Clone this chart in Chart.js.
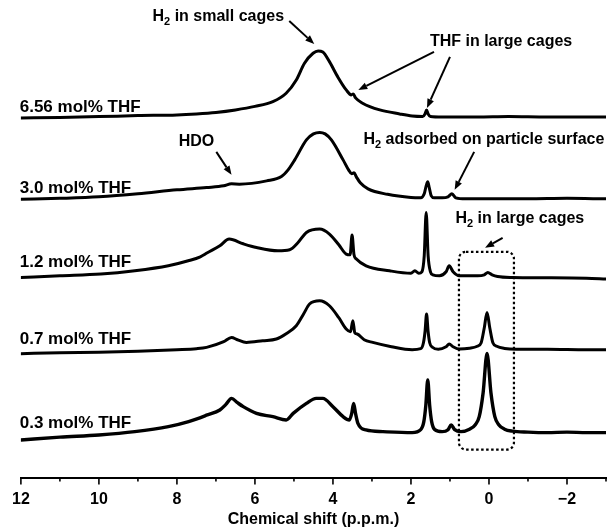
<!DOCTYPE html>
<html>
<head>
<meta charset="utf-8">
<script src="https://cdn.jsdelivr.net/npm/chart.js@4"></script>
<style>
  html, body { margin: 0; padding: 0; background: #fff; }
  #wrap { width: 616px; height: 529px; position: relative; }
</style>
</head>
<body>
<div id="wrap"><canvas id="nmrChart"></canvas></div>
<script>
// 1H NMR spectra, chemical shift (ppm) vs intensity (arbitrary units), top to bottom
const traceLabels = ["6.56 mol% THF", "3.0 mol% THF", "1.2 mol% THF", "0.7 mol% THF", "0.3 mol% THF"];
const traceOffsets = [361, 279, 200, 128, 45];

const ppm656 = [12, 11, 10, 9, 8, 7.5, 7, 6.5, 6, 5.54, 5.2, 4.94, 4.73, 4.51, 4.38, 4.26, 4.09, 3.88, 3.66, 3.53,
  3.48, 3.42, 3.24, 2.8, 2.29, 1.97, 1.7, 1.64, 1.6, 1.56, 1.5, 1.2, 0.8, 0.3, -0.5, -1.5, -2.2, -3];
const int656 = [-1, -0.5, 0.3, 1.3, 2, 3, 4.5, 7, 10.5, 15.3, 23.7, 37, 53.7, 63.7, 66, 65, 55.3, 40.3, 27, 22,
  23, 19, 13.7, 7, 3, 1, 0.5, 3, 7, 3, 0.5, 0, 0, 0, 0.5, 0, 0, 0];

const ppm30 = [12, 11, 10, 9, 8, 7.24, 6.8, 6.6, 6.4, 5.7, 5.32, 5.15, 4.98, 4.68, 4.5, 4.34, 4.2, 4.04, 3.74, 3.6,
  3.52, 3.46, 3.4, 3.3, 3.1, 2.6, 2.0, 1.75, 1.66, 1.61, 1.57, 1.53, 1.48, 1.4, 1.2, 1.05, 0.95, 0.85, 0.6, 0,
  -1, -2, -3];
const int30 = [-0.5, 0.5, 2, 5, 9, 11.3, 13, 15, 14.7, 18, 22.3, 29, 39, 59, 65, 66.5, 65, 59, 39, 29,
  25, 26, 22, 16, 10, 4.5, 1.3, 1, 5, 13, 17, 11, 3, 1, 1, 2, 5, 1, 0, 0,
  0, 0.5, 0];

const ppm12 = [12, 11, 9.95, 9.08, 8.22, 7.71, 7.4, 7.22, 6.9, 6.66, 6.3, 5.96, 5.41, 5.11, 4.9, 4.68, 4.34, 4.09,
  3.85, 3.66, 3.56, 3.51, 3.46, 3.4, 3.15, 2.55, 2.0, 1.9, 1.8, 1.72, 1.66, 1.61, 1.56, 1.5, 1.44, 1.27, 1.1, 1.02,
  0.92, 0.76, 0.29, 0.12, 0.03, -0.08, -0.22, -0.6, -1.5, -2.5, -3];
const int12 = [0.3, 2, 3.7, 7, 12, 17, 21, 25, 32, 38.7, 34, 30.3, 27, 28, 35, 45.3, 48.7, 43.7,
  33, 23.7, 23, 42.7, 23, 18.7, 12, 7, 4.5, 7, 4.5, 6, 22, 65.3, 22, 6, 3, 2, 6, 12,
  6, 2, 2, 3, 5.3, 3, 1.3, 0.3, 0, -0.5, -1.3];

const ppm07 = [12, 11, 10, 9, 8, 7.5, 7.24, 6.8, 6.6, 6.45, 6.22, 5.8, 5.45, 5.2, 4.94, 4.75, 4.6, 4.34, 4.09, 3.85,
  3.66, 3.55, 3.49, 3.44, 3.38, 3.2, 2.98, 2.5, 1.97, 1.75, 1.68, 1.64, 1.6, 1.56, 1.52, 1.45, 1.3, 1.1, 1.02, 0.92,
  0.76, 0.5, 0.3, 0.2, 0.12, 0.05, -0.02, -0.1, -0.2, -0.4, -0.7, -1.5, -2.5, -3];
const int07 = [-4, -3, -2.5, -1.5, 0, 1, 2.3, 8, 12.3, 10, 7.3, 9, 10.7, 16, 24, 36, 45.7, 49, 44, 32,
  20.7, 18, 29, 17, 15.7, 10, 7.3, 3, 0, 1, 7, 18, 35.7, 18, 7, 2.5, 0.5, 3, 5.7, 3,
  0.7, 1.5, 3.5, 7, 22, 37.3, 22, 7, 3.5, 1.3, 0.5, 0.5, 0, 0];

const ppm03 = [12, 11, 10, 9.08, 8.22, 7.7, 7.22, 6.9, 6.75, 6.6, 6.45, 6.3, 5.96, 5.54, 5.2, 5.02, 4.68, 4.43, 4.26,
  4.0, 3.74, 3.58, 3.52, 3.47, 3.42, 3.36, 3.15, 2.72, 1.97, 1.75, 1.67, 1.62, 1.57, 1.52, 1.47, 1.39, 1.2, 1.05,
  0.97, 0.88, 0.72, 0.5, 0.35, 0.25, 0.15, 0.05, -0.05, -0.15, -0.25, -0.4, -0.6, -1.0, -1.5, -2.0, -2.5, -3];
const int03 = [-7.3, -4.5, -2.3, 1, 6, 11, 17.7, 22.7, 28, 34.3, 30, 26, 19.3, 16, 12.7, 19.3, 29.3, 34.3, 34.3,
  26, 16, 12.7, 19, 29.3, 19, 9.3, 2.7, 1, 0, 3, 11, 27, 52.7, 27, 11, 3, 1, 3,
  7.7, 3, 1, 3.5, 8, 16, 40, 79.3, 40, 16, 8, 3.5, 1.5, 0.5, 0, 0.5, 0, 0];

const tracePpm = [ppm656, ppm30, ppm12, ppm07, ppm03];
const traceInt = [int656, int30, int12, int07, int03];

const tickValues = [12, 10, 8, 6, 4, 2, 0, -2];
const minorTickValues = [11, 9, 7, 5, 3, 1, -1, -3];

// annotations in data coordinates: [ppm, height]
const traceLabelAt = [[12.03, 371], [12.03, 290], [12.03, 215], [12.03, 138], [12.03, 54]];
const notes = [
  { text: "H_2 in small cages", at: [6.94, 461], arrows: [[[5.12, 457], [4.48, 434]]] },
  { text: "THF in large cages", at: [-0.31, 436], arrows: [[[1.41, 426], [3.35, 388]], [[1.0, 421], [1.59, 370]]] },
  { text: "HDO", at: [7.5, 336], arrows: [[[6.99, 326], [6.6, 303]]] },
  { text: "H_2 adsorbed on particle surface", at: [0.13, 338], arrows: [[[0.38, 326], [0.88, 288]]] },
  { text: "H_2 in large cages", at: [-0.79, 259], arrows: [[[-0.35, 240], [0.1, 230]]] },
];
const boxPpm = [0.77, -0.64];
const boxHeight = [28, 226];

const FONT = "'Liberation Sans', Arial, sans-serif";

function drawRich(ctx, str, cx, cy, size) {
  const parts = str.split("_");
  const big = "bold " + size + "px " + FONT;
  const small = "bold " + Math.round(size * 0.68) + "px " + FONT;
  let pieces = [];
  parts.forEach((p, i) => {
    if (i === 0) { pieces.push({ t: p, sub: false }); return; }
    pieces.push({ t: p[0], sub: true });
    pieces.push({ t: p.slice(1), sub: false });
  });
  let total = 0;
  pieces.forEach(pc => {
    ctx.font = pc.sub ? small : big;
    pc.w = ctx.measureText(pc.t).width;
    total += pc.w;
  });
  let x = cx - total / 2;
  ctx.textBaseline = "middle";
  ctx.textAlign = "left";
  pieces.forEach(pc => {
    ctx.font = pc.sub ? small : big;
    ctx.fillText(pc.t, x, pc.sub ? cy + 5 : cy);
    x += pc.w;
  });
}

function drawArrow(ctx, x1, y1, x2, y2) {
  const ang = Math.atan2(y2 - y1, x2 - x1);
  const len = 9, half = 3.5;
  const bx = x2 - len * Math.cos(ang), by = y2 - len * Math.sin(ang);
  ctx.beginPath();
  ctx.moveTo(x1, y1);
  ctx.lineTo(bx, by);
  ctx.lineWidth = 2;
  ctx.stroke();
  ctx.beginPath();
  ctx.moveTo(x2, y2);
  ctx.lineTo(bx + half * Math.sin(ang), by - half * Math.cos(ang));
  ctx.lineTo(bx - half * Math.sin(ang), by + half * Math.cos(ang));
  ctx.closePath();
  ctx.fill();
}

const decorations = {
  id: "decorations",
  afterDraw(chart) {
    const ctx = chart.ctx;
    const xs = chart.scales.x, ys = chart.scales.y;
    const bottom = chart.chartArea.bottom;
    ctx.save();
    ctx.strokeStyle = "#000";
    ctx.fillStyle = "#000";

    // axis ticks, pointing down
    ctx.lineWidth = 1.6;
    tickValues.forEach(v => {
      const px = xs.getPixelForValue(v);
      ctx.beginPath(); ctx.moveTo(px, bottom); ctx.lineTo(px, bottom + 7); ctx.stroke();
    });
    minorTickValues.forEach(v => {
      const px = xs.getPixelForValue(v);
      ctx.beginPath(); ctx.moveTo(px, bottom); ctx.lineTo(px, bottom + 4); ctx.stroke();
    });

    // trace labels
    ctx.font = "bold 17px " + FONT;
    ctx.textAlign = "left";
    ctx.textBaseline = "middle";
    traceLabels.forEach((t, i) => {
      ctx.fillText(t, xs.getPixelForValue(traceLabelAt[i][0]), ys.getPixelForValue(traceLabelAt[i][1]));
    });

    // annotations with arrows
    notes.forEach(n => {
      drawRich(ctx, n.text, xs.getPixelForValue(n.at[0]), ys.getPixelForValue(n.at[1]), 16);
      n.arrows.forEach(a => {
        drawArrow(ctx, xs.getPixelForValue(a[0][0]), ys.getPixelForValue(a[0][1]),
          xs.getPixelForValue(a[1][0]), ys.getPixelForValue(a[1][1]));
      });
    });

    // dotted box around the H2 large-cage peak
    const bx1 = xs.getPixelForValue(boxPpm[0]), bx2 = xs.getPixelForValue(boxPpm[1]);
    const by1 = ys.getPixelForValue(boxHeight[1]), by2 = ys.getPixelForValue(boxHeight[0]);
    ctx.setLineDash([2.5, 2.5]);
    ctx.lineWidth = 2.2;
    ctx.beginPath();
    ctx.roundRect(bx1, by1, bx2 - bx1, by2 - by1, 7);
    ctx.stroke();
    ctx.restore();
  },
};

const datasets = tracePpm.map((ppm, i) => ({
  label: traceLabels[i],
  data: ppm.map((p, j) => ({ x: p, y: traceOffsets[i] + traceInt[i][j] })),
  borderColor: "#000",
  borderWidth: i === 4 ? 3.4 : 3,
  pointRadius: 0,
  fill: false,
  cubicInterpolationMode: "monotone",
  borderJoinStyle: "round",
  borderCapStyle: "round",
}));

new Chart(document.getElementById("nmrChart"), {
  type: "line",
  data: { datasets },
  options: {
    responsive: true,
    maintainAspectRatio: false,
    animation: false,
    layout: { padding: { left: 20, right: 10, top: 0, bottom: 0 } },
    plugins: { legend: { display: false }, tooltip: { enabled: false } },
    scales: {
      x: {
        type: "linear",
        reverse: true,
        min: -3,
        max: 12,
        afterBuildTicks(scale) {
          scale.ticks = tickValues.map(v => ({ value: v }));
        },
        grid: { display: false, drawTicks: false },
        border: { display: true, color: "#000", width: 2 },
        ticks: {
          color: "#000",
          padding: 12,
          maxRotation: 0,
          autoSkip: false,
          font: { family: FONT, weight: "bold", size: 16 },
          callback: v => (v < 0 ? "\u2212" + Math.abs(v) : String(v)),
        },
        title: {
          display: true,
          text: "Chemical shift (p.p.m.)",
          color: "#000",
          font: { family: FONT, weight: "bold", size: 16 },
          padding: { top: -11, bottom: 0 },
        },
      },
      y: { display: false, min: 0, max: 478 },
    },
  },
  plugins: [decorations],
});
</script>
</body>
</html>
